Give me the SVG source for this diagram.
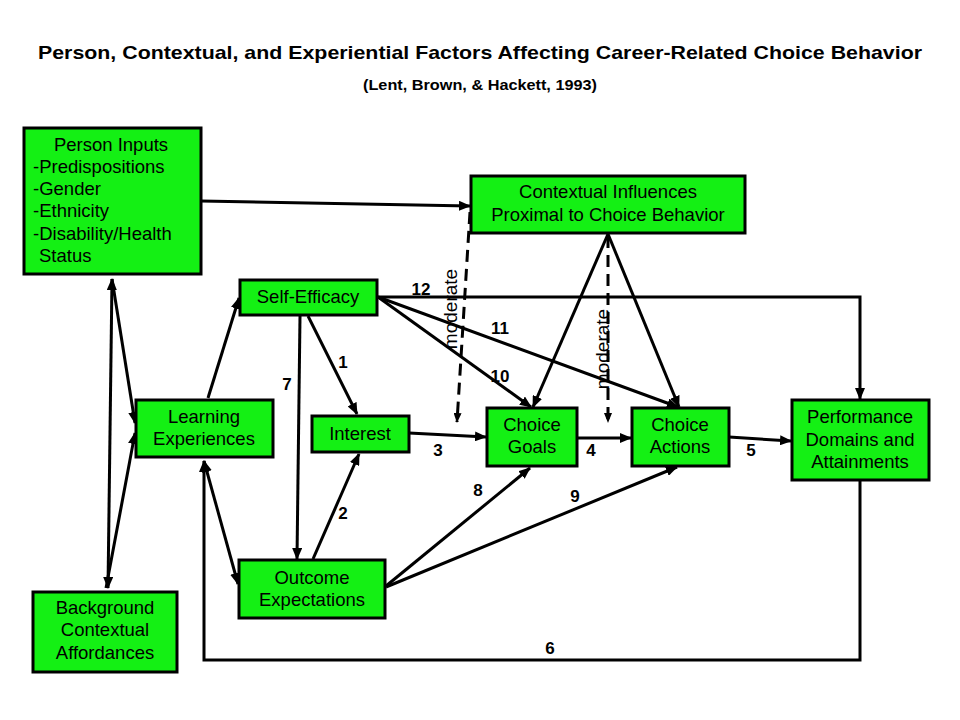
<svg xmlns="http://www.w3.org/2000/svg" width="960" height="720" viewBox="0 0 960 720">
<defs>
<marker id="ah" viewBox="0 0 12 10" refX="11" refY="5" markerWidth="12" markerHeight="10" markerUnits="userSpaceOnUse" orient="auto-start-reverse">
<path d="M0,0 L12,5 L0,10 Z" fill="#000"/>
</marker>
<marker id="ahs" viewBox="0 0 10 8" refX="9" refY="4" markerWidth="10" markerHeight="8" markerUnits="userSpaceOnUse" orient="auto">
<path d="M0,0 L10,4 L0,8 Z" fill="#000"/>
</marker>
<style>
.box{fill:#14f014;stroke:#000;stroke-width:3}
.t{font-family:"Liberation Sans",Arial,sans-serif;font-size:18.5px;fill:#000}
.c{text-anchor:middle}
.n{font-family:"Liberation Sans",Arial,sans-serif;font-size:17px;font-weight:bold;fill:#000;text-anchor:middle}
.ln{fill:none;stroke:#000;stroke-width:3}
.a{marker-end:url(#ah)}
.d{stroke-dasharray:12,7;marker-end:url(#ahs)}
</style>
</defs>
<rect width="960" height="720" fill="#fff"/>
<text x="480" y="59" class="n" style="font-size:18.5px" textLength="884" lengthAdjust="spacingAndGlyphs">Person, Contextual, and Experiential Factors Affecting Career-Related Choice Behavior</text>
<text x="480" y="90" class="n" style="font-size:14px" textLength="234" lengthAdjust="spacingAndGlyphs">(Lent, Brown, &amp; Hackett, 1993)</text>

<g id="connectors">
<line class="ln a" x1="201" y1="201" x2="470" y2="206"/>
<path class="ln" d="M112,279 L108,588" style="marker-start:url(#ah);marker-end:url(#ah)"/>
<line class="ln a" x1="112" y1="279" x2="135" y2="423"/>
<line class="ln a" x1="106" y1="588" x2="135" y2="433"/>
<line class="ln a" x1="208" y1="398" x2="239" y2="298"/>
<path class="ln" d="M204,461 L238,584" style="marker-start:url(#ah);marker-end:url(#ah)"/>
<path class="ln a" d="M860,481 L860,660 L204,660 L204,461"/>
<line class="ln a" x1="300" y1="316" x2="297" y2="559"/>
<line class="ln a" x1="308" y1="316" x2="357" y2="414"/>
<line class="ln a" x1="313" y1="559" x2="359" y2="454"/>
<line class="ln a" x1="409" y1="433" x2="486" y2="437"/>
<line class="ln a" x1="577" y1="438" x2="631" y2="438"/>
<line class="ln a" x1="729" y1="437" x2="791" y2="441"/>
<line class="ln a" x1="386" y1="586" x2="530" y2="468"/>
<line class="ln a" x1="386" y1="587" x2="677" y2="467"/>
<line class="ln a" x1="378" y1="297" x2="531" y2="407"/>
<line class="ln a" x1="378" y1="297" x2="678" y2="407"/>
<path class="ln a" d="M378,297 L860,297 L860,399"/>
<line class="ln a" x1="608" y1="234" x2="533" y2="407"/>
<line class="ln a" x1="608" y1="234" x2="679" y2="407"/>
<line class="ln d" x1="470" y1="212" x2="457" y2="422"/>
<line class="ln d" x1="608" y1="236" x2="608" y2="422"/>
</g>

<g id="labels">
<text class="t c" style="font-size:19px" transform="translate(457,309) rotate(-90)">moderate</text>
<text class="t c" style="font-size:19px" transform="translate(609,349) rotate(-90)">moderate</text>
<text x="421" y="295" class="n">12</text>
<text x="500" y="334" class="n">11</text>
<text x="500" y="382" class="n">10</text>
<text x="343" y="368" class="n">1</text>
<text x="287" y="390" class="n">7</text>
<text x="438" y="456" class="n">3</text>
<text x="591" y="456" class="n">4</text>
<text x="751" y="456" class="n">5</text>
<text x="478" y="496" class="n">8</text>
<text x="575" y="502" class="n">9</text>
<text x="343" y="519" class="n">2</text>
<text x="550" y="654" class="n">6</text>
</g>

<g id="person-inputs">
<rect class="box" x="24" y="128" width="177" height="146"/>
<text class="t c" x="111" y="151">Person Inputs</text>
<text class="t" x="33" y="173">-Predispositions</text>
<text class="t" x="33" y="195">-Gender</text>
<text class="t" x="33" y="217">-Ethnicity</text>
<text class="t" x="33" y="240">-Disability/Health</text>
<text class="t" x="39" y="262">Status</text>
</g>
<g id="contextual-influences">
<rect class="box" x="471" y="176" width="274" height="57"/>
<text class="t c" x="608" y="198">Contextual Influences</text>
<text class="t c" x="608" y="221">Proximal to Choice Behavior</text>
</g>
<g id="self-efficacy">
<rect class="box" x="240" y="280" width="137" height="35"/>
<text class="t c" x="308" y="303">Self-Efficacy</text>
</g>
<g id="learning-experiences">
<rect class="box" x="136" y="400" width="137" height="57"/>
<text class="t c" x="204" y="423">Learning</text>
<text class="t c" x="204" y="445">Experiences</text>
</g>
<g id="interest">
<rect class="box" x="312" y="416" width="97" height="36"/>
<text class="t c" x="360" y="440">Interest</text>
</g>
<g id="outcome-expectations">
<rect class="box" x="239" y="560" width="146" height="58"/>
<text class="t c" x="312" y="584">Outcome</text>
<text class="t c" x="312" y="606">Expectations</text>
</g>
<g id="background">
<rect class="box" x="33" y="592" width="144" height="80"/>
<text class="t c" x="105" y="614">Background</text>
<text class="t c" x="105" y="636">Contextual</text>
<text class="t c" x="105" y="659">Affordances</text>
</g>
<g id="choice-goals">
<rect class="box" x="487" y="408" width="90" height="58"/>
<text class="t c" x="532" y="431">Choice</text>
<text class="t c" x="532" y="453">Goals</text>
</g>
<g id="choice-actions">
<rect class="box" x="632" y="408" width="97" height="58"/>
<text class="t c" x="680" y="431">Choice</text>
<text class="t c" x="680" y="453">Actions</text>
</g>
<g id="performance">
<rect class="box" x="792" y="400" width="137" height="80"/>
<text class="t c" x="860" y="423">Performance</text>
<text class="t c" x="860" y="446">Domains and</text>
<text class="t c" x="860" y="468">Attainments</text>
</g>
</svg>
